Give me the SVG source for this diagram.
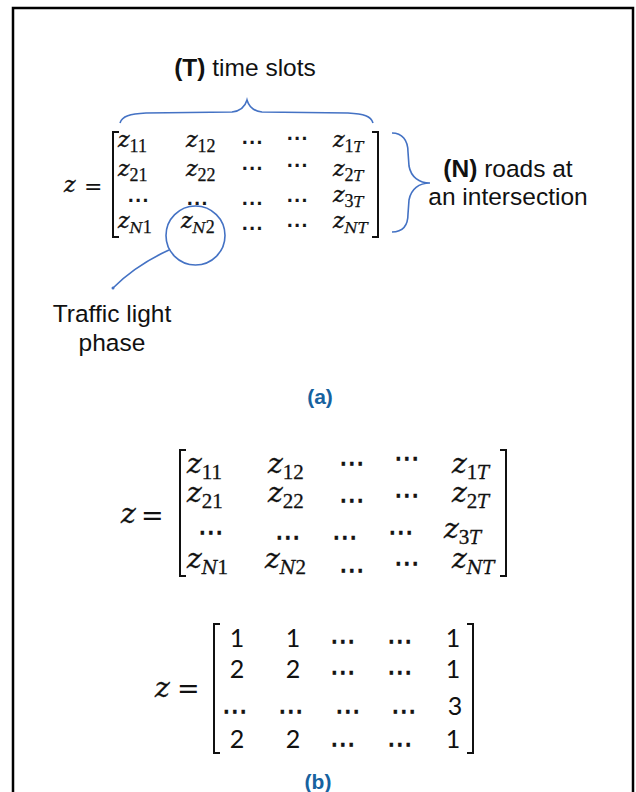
<svg xmlns="http://www.w3.org/2000/svg" width="636" height="792" viewBox="0 0 636 792">
  <style>
    .lbl { font-family: "Liberation Sans", Arial, sans-serif; font-size: 24.5px; fill: #111; text-anchor: middle; }
    .b { font-weight: bold; }
    .cap { font-family: "Liberation Sans", Arial, sans-serif; font-size: 21px; font-weight: bold; fill: #17629f; text-anchor: middle; }
    .za { font-family: "DejaVu Serif", serif; font-style: italic; font-size: 22px; fill: #111; stroke: #111; stroke-width: 0.35; }
    .zb { font-family: "DejaVu Serif", serif; font-style: italic; font-size: 28px; fill: #111; stroke: #111; stroke-width: 0.35; }
    .sa { font-family: "Liberation Serif", serif; font-style: normal; font-size: 18px; stroke-width: 0.25; }
    .sb { font-family: "Liberation Serif", serif; font-style: normal; font-size: 21px; stroke-width: 0.3; }
    .ia { font-family: "DejaVu Serif", serif; font-style: italic; font-size: 15px; stroke-width: 0.25; }
    .ib { font-family: "DejaVu Serif", serif; font-style: italic; font-size: 18px; stroke-width: 0.3; }
    .da { font-family: "DejaVu Sans", sans-serif; font-size: 22px; fill: #111; stroke: #111; stroke-width: 0.6; text-anchor: middle; }
    .db { font-family: "DejaVu Sans", sans-serif; font-size: 26px; fill: #111; stroke: #111; stroke-width: 0.7; text-anchor: middle; }
    .eq { font-family: "DejaVu Serif", serif; fill: #111; }
    .num { font-family: Lato, "DejaVu Sans", sans-serif; font-size: 25px; fill: #111; text-anchor: middle; }
    .brk { fill: none; stroke: #111; stroke-width: 2; }
    .blue { fill: none; stroke: #4472c4; stroke-width: 1.6; }
  </style>

  <!-- frame -->
  <rect x="13" y="8" width="620" height="820" fill="none" stroke="#000" stroke-width="2.5"/>

  <!-- (a) labelled matrix -->
  <g id="title-T">
    <text class="lbl" x="245" y="76"><tspan class="b">(T)</tspan> time slots</text>
  </g>
  <g id="title-N">
    <text class="lbl" x="508" y="177"><tspan class="b">(N)</tspan> roads at</text>
    <text class="lbl" x="508" y="205">an intersection</text>
  </g>
  <g id="label-phase">
    <text class="lbl" x="112" y="322">Traffic light</text>
    <text class="lbl" x="112" y="351">phase</text>
  </g>

  <g id="matrix-a">
    <text class="za" x="64" y="192">z</text>
    <text class="eq" x="84" y="194" font-size="22">=</text>
    <path class="brk" d="M119,132 H113 V237 H119"/>
    <path class="brk" d="M372,132 H378 V237 H372"/>
    <!-- row 1 -->
    <text class="za" x="118" y="147">z<tspan class="sa" dy="5">11</tspan></text>
    <text class="za" x="186" y="147">z<tspan class="sa" dy="5">12</tspan></text>
    <text class="da" x="252" y="149">⋯</text>
    <text class="da" x="297" y="145">⋯</text>
    <text class="za" x="333" y="147">z<tspan class="sa" dy="5">1</tspan><tspan class="ia">T</tspan></text>
    <!-- row 2 -->
    <text class="za" x="118" y="176">z<tspan class="sa" dy="5">21</tspan></text>
    <text class="za" x="186" y="176">z<tspan class="sa" dy="5">22</tspan></text>
    <text class="da" x="252" y="175">⋯</text>
    <text class="da" x="297" y="172">⋯</text>
    <text class="za" x="333" y="176">z<tspan class="sa" dy="5">2</tspan><tspan class="ia">T</tspan></text>
    <!-- row 3 -->
    <text class="da" x="138" y="207">⋯</text>
    <text class="da" x="197" y="210">⋯</text>
    <text class="da" x="252" y="210">⋯</text>
    <text class="da" x="297" y="207">⋯</text>
    <text class="za" x="333" y="202">z<tspan class="sa" dy="5">3</tspan><tspan class="ia">T</tspan></text>
    <!-- row 4 -->
    <text class="za" x="118" y="228">z<tspan class="ia" dy="5">N</tspan><tspan class="sa">1</tspan></text>
    <text class="za" x="181" y="228">z<tspan class="ia" dy="5">N</tspan><tspan class="sa">2</tspan></text>
    <text class="da" x="252" y="235">⋯</text>
    <text class="da" x="297" y="232">⋯</text>
    <text class="za" x="333" y="228">z<tspan class="ia" dy="5">NT</tspan></text>
  </g>

  <!-- braces, highlight circle and leader -->
  <g id="connectors">
    <path class="blue" d="M120,123 C122,116 130,114 146,113 L232,112 C241,111 245,107 247,100 C249,107 253,111 262,112 L348,113 C364,114 371,116 373,123"/>
    <path class="blue" d="M392,133 C402,133 408,140 408,152 L409,166 C411,177 419,183 430,183 C419,183 411,189 409,200 L408,214 C408,226 402,232 392,232"/>
    <circle class="blue" cx="195.5" cy="235.5" r="29.5"/>
    <path class="blue" d="M169,250 Q136,265 113,288"/>
    <circle cx="113" cy="288" r="1.5" fill="#4472c4"/>
  </g>

  <g id="caption-a">
    <text class="cap" x="320" y="404">(a)</text>
  </g>

  <!-- (b) symbolic matrix -->
  <g id="matrix-b">
    <text class="zb" x="121" y="523">z</text>
    <text class="eq" x="141" y="525" font-size="27">=</text>
    <path class="brk" d="M186,450 H180 V576 H186" stroke-width="2.5"/>
    <path class="brk" d="M500,450 H506 V576 H500" stroke-width="2.5"/>
    <!-- row 1 -->
    <text class="zb" x="187" y="473">z<tspan class="sb" dy="6">11</tspan></text>
    <text class="zb" x="268" y="473">z<tspan class="sb" dy="6">12</tspan></text>
    <text class="db" x="352" y="472">⋯</text>
    <text class="db" x="407" y="467">⋯</text>
    <text class="zb" x="452" y="473">z<tspan class="sb" dy="6">1</tspan><tspan class="ib">T</tspan></text>
    <!-- row 2 -->
    <text class="zb" x="187" y="502">z<tspan class="sb" dy="6">21</tspan></text>
    <text class="zb" x="268" y="502">z<tspan class="sb" dy="6">22</tspan></text>
    <text class="db" x="352" y="509">⋯</text>
    <text class="db" x="407" y="504">⋯</text>
    <text class="zb" x="452" y="502">z<tspan class="sb" dy="6">2</tspan><tspan class="ib">T</tspan></text>
    <!-- row 3 -->
    <text class="db" x="211" y="541">⋯</text>
    <text class="db" x="288" y="546">⋯</text>
    <text class="db" x="345" y="546">⋯</text>
    <text class="db" x="401" y="541">⋯</text>
    <text class="zb" x="444" y="538">z<tspan class="sb" dy="6">3</tspan><tspan class="ib">T</tspan></text>
    <!-- row 4 -->
    <text class="zb" x="187" y="568">z<tspan class="ib" dy="6">N</tspan><tspan class="sb">1</tspan></text>
    <text class="zb" x="265" y="568">z<tspan class="ib" dy="6">N</tspan><tspan class="sb">2</tspan></text>
    <text class="db" x="352" y="579">⋯</text>
    <text class="db" x="407" y="572">⋯</text>
    <text class="zb" x="452" y="568">z<tspan class="ib" dy="6">NT</tspan></text>
  </g>

  <!-- (b) numeric matrix -->
  <g id="matrix-values">
    <text class="zb" x="155" y="697">z</text>
    <text class="eq" x="177" y="698" font-size="27">=</text>
    <path class="brk" d="M220,624 H214 V753 H220" stroke-width="2.5"/>
    <path class="brk" d="M467,624 H473 V753 H467" stroke-width="2.5"/>
    <!-- row 1 -->
    <text class="num" x="237" y="647">1</text>
    <text class="num" x="293" y="647">1</text>
    <text class="db" x="343" y="650">⋯</text>
    <text class="db" x="400" y="650">⋯</text>
    <text class="num" x="453" y="647">1</text>
    <!-- row 2 -->
    <text class="num" x="237" y="678">2</text>
    <text class="num" x="293" y="678">2</text>
    <text class="db" x="343" y="681">⋯</text>
    <text class="db" x="400" y="681">⋯</text>
    <text class="num" x="453" y="678">1</text>
    <!-- row 3 -->
    <text class="db" x="235" y="720">⋯</text>
    <text class="db" x="291" y="720">⋯</text>
    <text class="db" x="348" y="720">⋯</text>
    <text class="db" x="404" y="720">⋯</text>
    <text class="num" x="455" y="715">3</text>
    <!-- row 4 -->
    <text class="num" x="237" y="748">2</text>
    <text class="num" x="293" y="748">2</text>
    <text class="db" x="343" y="753">⋯</text>
    <text class="db" x="400" y="753">⋯</text>
    <text class="num" x="453" y="748">1</text>
  </g>

  <g id="caption-b">
    <text class="cap" x="318" y="789">(b)</text>
  </g>
</svg>
